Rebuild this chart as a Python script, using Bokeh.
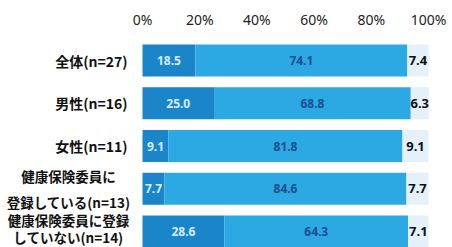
from bokeh.plotting import figure
from bokeh.models import ColumnDataSource, Range1d, FixedTicker, PrintfTickFormatter
from bokeh.core.properties import value
from bokeh.embed import file_html
from bokeh.resources import INLINE

categories = ["全体(n=27)", "男性(n=16)", "女性(n=11)",
              "健康保険委員に\n登録している(n=13)", "健康保険委員に登録\nしていない(n=14)"]
seg1 = [18.5, 25.0, 9.1, 7.7, 28.6]
seg2 = [74.1, 68.8, 81.8, 84.6, 64.3]
seg3 = [7.4, 6.3, 9.1, 7.7, 7.1]
tick_values = [0, 20, 40, 60, 80, 100]

c1 = "#1a86c9"
c2 = "#2ca8e2"
c3 = "#e4f0fa"

idx = list(range(len(categories)))
e1 = seg1
e2 = [a + b for a, b in zip(seg1, seg2)]
e3 = [a + b + c for a, b, c in zip(seg1, seg2, seg3)]

src = ColumnDataSource(dict(
    y=idx, cat=categories,
    s1=seg1, s2=seg2, s3=seg3,
    e1=e1, e2=e2, e3=e3,
    m1=[v / 2 for v in seg1],
    m2=[a + b / 2 for a, b in zip(seg1, seg2)],
    m3=[a + b / 2 for a, b in zip(e2, seg3)],
    t1=["%.1f" % v for v in seg1],
    t2=["%.1f" % v for v in seg2],
    t3=["%.1f" % v for v in seg3],
))

p = figure(width=452, height=247,
           x_range=Range1d(-49.65, 108.39), y_range=Range1d(4.374, -0.538),
           x_axis_location="above", y_axis_location=None,
           output_backend="svg", toolbar_location=None,
           min_border_left=0, min_border_right=0, min_border_top=37, min_border_bottom=0)
p.grid.visible = False
p.outline_line_color = None
p.background_fill_color = "white"
p.border_fill_color = "white"

ax = p.xaxis[0]
ax.ticker = FixedTicker(ticks=tick_values)
ax.formatter = PrintfTickFormatter(format="%d%%")
ax.axis_line_color = None
ax.major_tick_line_color = None
ax.minor_tick_line_color = None
ax.major_label_text_font = "Noto Sans"
ax.major_label_text_font_size = "14px"
ax.major_label_text_color = "#222222"
ax.major_label_standoff = 3

bh = 0.75
p.hbar(y="y", left=0, right="e1", height=bh, source=src, fill_color=c1, line_color=None)
p.hbar(y="y", left="e1", right="e2", height=bh, source=src, fill_color=c2, line_color=None)
p.hbar(y="y", left="e2", right="e3", height=bh, source=src, fill_color=c3, line_color=None)

p.text(x="m1", y="y", text="t1", source=src, text_align="center", text_baseline="middle",
       text_font=value("Noto Sans"), text_font_size="12px", text_font_style="bold",
       text_color="#d6ecfa")
p.text(x="m2", y="y", text="t2", source=src, text_align="center", text_baseline="middle",
       text_font=value("Noto Sans"), text_font_size="12px", text_font_style="bold",
       text_color="#1d4f8e")
p.text(x="m3", y="y", text="t3", source=src, text_align="center", text_baseline="middle",
       text_font=value("Noto Sans"), text_font_size="13px", text_font_style="bold",
       text_color="#111111")

single = ColumnDataSource(dict(
    y=[i for i, c in zip(idx, categories) if "\n" not in c],
    cat=[c for c in categories if "\n" not in c]))
p.text(x=-5.24, y="y", text="cat", source=single, text_align="right", text_baseline="middle",
       text_font=value("Noto Sans CJK JP"), text_font_size="14px", text_font_style="bold",
       text_color="#111111")

# two-line labels: the last one is set tighter (and nudged up) so it fits above the bottom edge
multi_rows = [(i, c) for i, c in zip(idx, categories) if "\n" in c]
line_heights = [1.28, 0.82]
y_offsets = [0, -3]
for (i, c), lh, yo in zip(multi_rows, line_heights, y_offsets):
    s = ColumnDataSource(dict(y=[i], cat=[c]))
    p.text(x=-25.87, y="y", text="cat", source=s, text_align="center", text_baseline="middle",
           text_font=value("Noto Sans CJK JP"), text_font_size="13.5px", text_font_style="bold",
           text_color="#111111", text_line_height=lh, y_offset=yo)

open("out.html", "w").write(file_html(p, INLINE))
